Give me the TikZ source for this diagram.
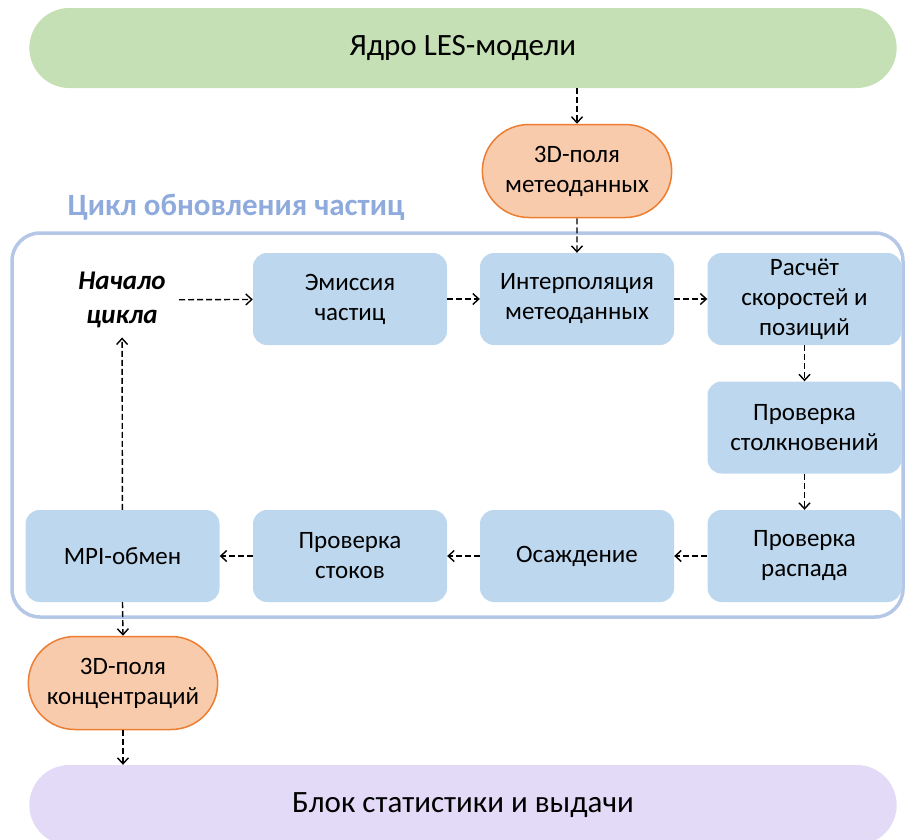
\documentclass[tikz,border=0pt]{standalone}
\usepackage{fontspec}
\setmainfont{Carlito}
\usetikzlibrary{shapes.misc,arrows.meta}

\definecolor{coregreen}{HTML}{C5E0B4}
\definecolor{statlilac}{HTML}{E3DAF7}
\definecolor{fieldfill}{HTML}{F8CBAD}
\definecolor{fielddraw}{HTML}{ED7D31}
\definecolor{stepblue}{HTML}{BDD7EE}
\definecolor{framblue}{HTML}{B4C7E7}
\definecolor{titleblue}{HTML}{8FAADC}

\tikzset{
  bar/.style={rounded rectangle, minimum width=874pt, minimum height=80pt,
    font=\fontsize{31}{36}\selectfont},
  field/.style={rounded rectangle, fill=fieldfill, draw=fielddraw, line width=1.5pt,
    minimum width=196pt, minimum height=93pt, align=center,
    font=\fontsize{25}{30}\selectfont},
  stepbox/.style={fill=stepblue, rounded corners=14pt, minimum width=194pt,
    minimum height=92pt, align=center, font=\fontsize{25}{30}\selectfont},
  flow/.style={line width=1.4pt, dash pattern=on 6pt off 3pt,
    -{Straight Barb[length=6pt,width=11pt,line width=1.4pt]}}
}

\begin{document}
\begin{tikzpicture}[x=1pt,y=-1pt]
	\useasboundingbox (0,0) rectangle (905,839);
	\clip (0,0) rectangle (905,839);

	% outer blocks
	\node[bar, fill=coregreen] (core)  at (463,48)  {Ядро LES-модели};
	\node[bar, fill=statlilac] (stats) at (463,805) {Блок статистики и выдачи};
	\node[field] (metfields)  at (577,171) {3D-поля\\метеоданных};
	\node[field] (concfields) at (123,683) {3D-поля\\концентраций};

	% loop frame
	\node[draw=framblue, line width=3.5pt, rounded corners=28pt,
		minimum width=891pt, minimum height=384pt] (loop) at (457.5,425) {};
	\node[text=titleblue, font=\bfseries\fontsize{31}{36}\selectfont]
		(looptitle) at (236,207) {Цикл обновления частиц};

	% loop steps
	\node[align=center, font=\bfseries\itshape\fontsize{27}{34}\selectfont]
		(start) at (122,300) {Начало\\цикла};
	\node[stepbox] (emis)    at (350,299)   {Эмиссия\\частиц};
	\node[stepbox] (interp)  at (577,299)   {Интерполяция\\метеоданных};
	\node[stepbox] (calc)    at (804.5,299) {Расчёт\\скоростей и\\позиций};
	\node[stepbox] (collide) at (804.5,427.5) {Проверка\\столкновений};
	\node[stepbox] (decay)   at (804.5,556) {Проверка\\распада};
	\node[stepbox] (depos)   at (577,556)   {Осаждение};
	\node[stepbox] (sinks)   at (350,556)   {Проверка\\стоков};
	\node[stepbox] (mpi)     at (122.5,556) {MPI-обмен};

	% connectors
	\draw[flow] (metfields.north |- core.south) -- (metfields.north);
	\draw[flow] (metfields) -- (interp);
	\draw[flow, shorten <=10pt] (start) -- (emis);
	\draw[flow] (emis) -- (interp);
	\draw[flow] (interp) -- (calc);
	\draw[flow] (calc) -- (collide);
	\draw[flow] (collide) -- (decay);
	\draw[flow] (decay) -- (depos);
	\draw[flow] (depos) -- (sinks);
	\draw[flow] (sinks) -- (mpi);
	\draw[flow, shorten >=6pt] (mpi) -- (start);
	\draw[flow] (mpi.south) -- (concfields.north);
	\draw[flow] (concfields.south) -- (concfields.south |- stats.north);
\end{tikzpicture}
\end{document}
